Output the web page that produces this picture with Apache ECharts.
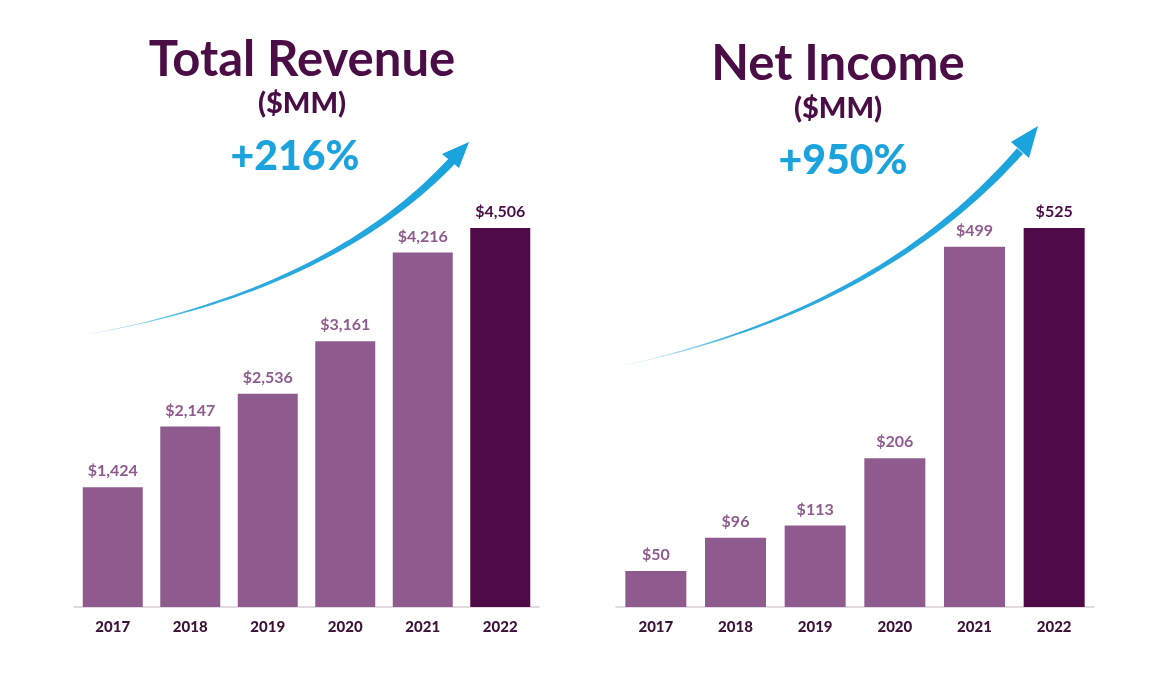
<!DOCTYPE html>
<html>
<head>
<meta charset="UTF-8">
<title>index</title>
<script src="https://cdn.jsdelivr.net/npm/echarts@6/dist/echarts.min.js"></script>
<style>
  html, body { margin: 0; padding: 0; background: #fff; }
  #main { width: 1166px; height: 678px; }
</style>
</head>
<body>
<div id="main"></div>
<script>
const years = ['2017', '2018', '2019', '2020', '2021', '2022']
const revenue = [1424, 2147, 2536, 3161, 4216, 4506]
const netIncome = [50, 96, 113, 206, 499, 525]

const light = '#8f5b8e'
const dark = '#4f0a48'
const titleColor = '#4a0d45'
const cyan = '#1aa3dc'
const font = 'Lato'

// bar data, last year drawn darker
function barData(vals) {
  return vals.map(function (v, i) {
    let last = i == vals.length - 1
    return {
      value: v,
      itemStyle: { color: last ? dark : light },
      label: { color: last ? titleColor : light }
    }
  })
}

// tapered curved arrow (quadratic bezier), width grows to the head
function arrow(p0, c, p1, tip, headA, headB, wEnd) {
  let top = [], bot = []
  let n = 40
  for (let i = 0; i <= n; i++) {
    let t = i / n
    let x = (1 - t) * (1 - t) * p0[0] + 2 * (1 - t) * t * c[0] + t * t * p1[0]
    let y = (1 - t) * (1 - t) * p0[1] + 2 * (1 - t) * t * c[1] + t * t * p1[1]
    let dx = 2 * (1 - t) * (c[0] - p0[0]) + 2 * t * (p1[0] - c[0])
    let dy = 2 * (1 - t) * (c[1] - p0[1]) + 2 * t * (p1[1] - c[1])
    let len = Math.sqrt(dx * dx + dy * dy)
    let w = 0.3 + wEnd * Math.pow(t, 1.1)
    let nx = -dy / len * w / 2, ny = dx / len * w / 2
    top.push([x + nx, y + ny])
    bot.unshift([x - nx, y - ny])
  }
  let grad = new echarts.graphic.LinearGradient(0, 0, 1, 0, [
    { offset: 0, color: 'rgba(26,163,220,0.15)' },
    { offset: 0.3, color: 'rgba(26,163,220,0.9)' },
    { offset: 1, color: cyan }
  ])
  return [
    { type: 'polygon', shape: { points: top.concat(bot) }, style: { fill: grad } },
    { type: 'polygon', shape: { points: [tip, headA, headB] }, style: { fill: cyan } }
  ]
}

function txt(x, y, s, size, color, weight) {
  return {
    type: 'text', x: x, y: y,
    style: {
      text: s, fontSize: size, fontWeight: weight || 'bold', fontFamily: font,
      fill: color, align: 'center', verticalAlign: 'middle'
    }
  }
}

let graphics = [
  txt(302, 60, 'Total Revenue', 49, titleColor),
  txt(302, 104, '($MM)', 29, titleColor, 900),
  txt(295, 157, '+216%', 41, cyan, 900),
  txt(838, 64, 'Net Income', 49, titleColor),
  txt(838, 109, '($MM)', 29, titleColor, 900),
  txt(843, 161, '+950%', 41, cyan, 900)
]
graphics = graphics.concat(arrow([90, 334], [330, 290], [452, 161], [469, 142], [442, 154], [459, 168], 8))
graphics = graphics.concat(arrow([625, 365], [880, 310], [1020, 151], [1038, 126], [1011, 142], [1029, 158], 8))

let axisCommon = {
  type: 'category',
  data: years,
  axisTick: { show: false },
  axisLine: { lineStyle: { color: '#d8d0d8', width: 1.5 } },
  axisLabel: {
    color: '#3d1238', fontSize: 15, fontWeight: 900, fontFamily: font, margin: 13
  }
}

let labelCommon = {
  show: true, position: 'top', distance: 8,
  fontSize: 16, fontWeight: 'bold', fontFamily: font,
  formatter: function (p) { return '$' + p.value.toLocaleString('en-US') }
}

let option = {
  animation: false,
  backgroundColor: '#fff',
  grid: [
    { left: 74, width: 465, top: 228, height: 379 },
    { left: 616, width: 478, top: 228, height: 379 }
  ],
  xAxis: [
    Object.assign({ gridIndex: 0 }, axisCommon),
    Object.assign({ gridIndex: 1 }, axisCommon)
  ],
  yAxis: [
    { gridIndex: 0, type: 'value', min: 0, max: 4506, show: false },
    { gridIndex: 1, type: 'value', min: 0, max: 525, show: false }
  ],
  series: [
    { type: 'bar', xAxisIndex: 0, yAxisIndex: 0, barWidth: 60, data: barData(revenue), label: labelCommon },
    { type: 'bar', xAxisIndex: 1, yAxisIndex: 1, barWidth: 61, data: barData(netIncome), label: labelCommon }
  ],
  graphic: graphics
}

let chart = echarts.init(document.getElementById('main'))
chart.setOption(option)
</script>
</body>
</html>
